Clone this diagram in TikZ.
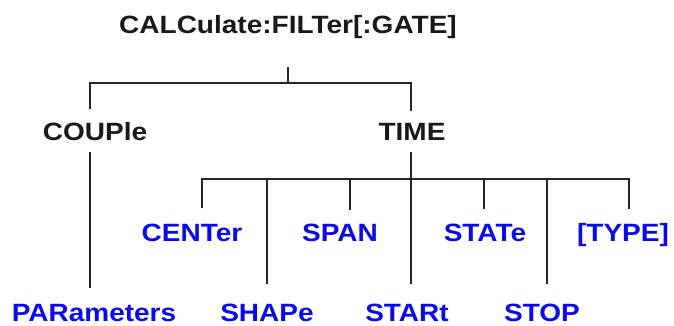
\documentclass[tikz,border=0pt]{standalone}
\usepackage{fontspec}
\newfontfamily\labfont{Liberation Sans}[FakeStretch=1.12]
\definecolor{cmdblue}{RGB}{10,10,235}
\begin{document}
\begin{tikzpicture}[x=1pt,y=-1pt,
  lbl/.style={font={\labfont\bfseries\fontsize{25}{30}\selectfont}, anchor=base, inner sep=0pt, text=black!90},
  cmd/.style={lbl, text=cmdblue},
  wire/.style={line width=1.5pt, draw=black!85, line cap=rect}]
\useasboundingbox (0,0) rectangle (674,325);
% labels
\node[lbl] (title) at (288,33) {CALCulate:FILTer[:GATE]};
\node[lbl] (couple) at (95,140) {COUPle};
\node[lbl] (time) at (412,140) {TIME};
\node[cmd] (center) at (192,241) {CENTer};
\node[cmd] (span) at (340,241) {SPAN};
\node[cmd] (state) at (485,241) {STATe};
\node[cmd] (type) at (623,241) {[TYPE]};
\node[cmd] (param) at (94,321) {PARameters};
\node[cmd] (shape) at (267,321) {SHAPe};
\node[cmd] (start) at (407,321) {STARt};
\node[cmd] (stop) at (542,321) {STOP};
% junction coordinates
\coordinate (t0) at (288,68);
\coordinate (t1) at (288,83);
\coordinate (bl) at (90,83);
\coordinate (br) at (411,83);
\coordinate (cpt) at (90,108);
\coordinate (tmt) at (411,110);
\coordinate (cpb) at (90,153);
\coordinate (cpe) at (90,287);
\coordinate (tmb) at (411,153);
\coordinate (tme) at (411,283);
\coordinate (tj) at (411,179);
\coordinate (b2l) at (202,179);
\coordinate (b2r) at (629,179);
\coordinate (cee) at (202,207);
\coordinate (shj) at (267,179);
\coordinate (she) at (267,283);
\coordinate (spj) at (350,179);
\coordinate (spe) at (350,209);
\coordinate (stj) at (484,179);
\coordinate (ste) at (484,208);
\coordinate (sopj) at (547,179);
\coordinate (sope) at (547,283);
\coordinate (tye) at (629,208);
% connectors
\draw[wire] (t0) -- (t1);
\draw[wire] (cpt) -- (bl) -- (br) -- (tmt);
\draw[wire] (cpb) -- (cpe);
\draw[wire] (tmb) -- (tj) -- (tme);
\draw[wire] (cee) -- (b2l) -- (b2r) -- (tye);
\draw[wire] (shj) -- (she);
\draw[wire] (spj) -- (spe);
\draw[wire] (stj) -- (ste);
\draw[wire] (sopj) -- (sope);
\end{tikzpicture}
\end{document}
